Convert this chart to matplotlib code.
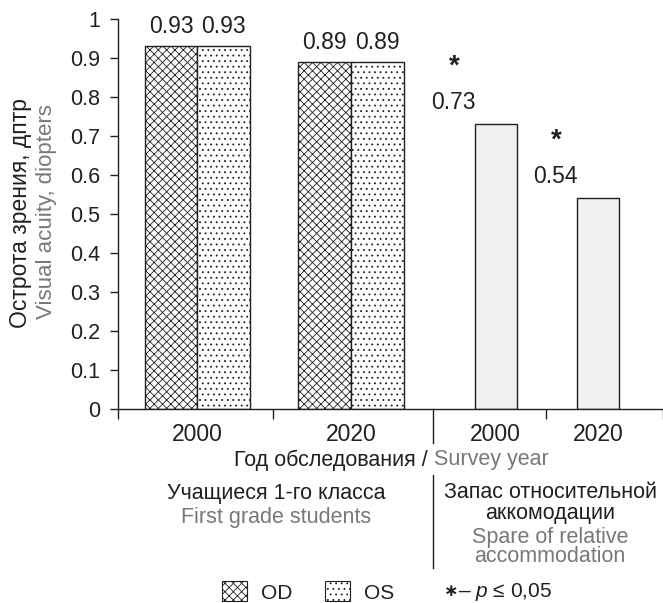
import matplotlib
matplotlib.use("Agg")
import matplotlib.pyplot as plt
from matplotlib.patches import Patch
from matplotlib.lines import Line2D

plt.rcParams["font.family"] = ["Liberation Sans", "DejaVu Sans"]
plt.rcParams["font.size"] = 15.5
plt.rcParams["mathtext.fontset"] = "custom"
plt.rcParams["mathtext.it"] = "Liberation Sans:italic"
plt.rcParams["mathtext.rm"] = "Liberation Sans"
plt.rcParams["hatch.linewidth"] = 0.6

# data
years = ["2000", "2020"]
od_vals = [0.93, 0.89]
os_vals = [0.93, 0.89]
reserve_vals = [0.73, 0.54]
yticks = [0, 0.1, 0.2, 0.3, 0.4, 0.5, 0.6, 0.7, 0.8, 0.9, 1]
ytick_labels = ["0", "0.1", "0.2", "0.3", "0.4", "0.5", "0.6", "0.7", "0.8", "0.9", "1"]

BLACK = "#231f20"
GRAY = "#77787b"
W, H = 663, 603

# layout (x units along the axis)
group_x = [1.51, 4.43]
reserve_x = [7.18, 9.12]
short_ticks = [0, 2.95, 8.13, 10.36]
long_tick = 5.99

fig = plt.figure(figsize=(6.63, 6.03), dpi=100)
ax = fig.add_axes([118 / W, 1 - 409 / H, 545 / W, 390 / H])

for i in range(len(years)):
    ax.bar(group_x[i] - 0.5, od_vals[i], width=1.0, facecolor="white",
           edgecolor=BLACK, linewidth=1.0, hatch="xxxx")
    ax.bar(group_x[i] + 0.5, os_vals[i], width=1.0, facecolor="white",
           edgecolor=BLACK, linewidth=1.0, hatch="...")
    for dx, v in [(-0.5, od_vals[i]), (0.5, os_vals[i])]:
        ax.annotate(f"{v:.2f}", (group_x[i] + dx, v), xytext=(0, 8),
                    textcoords="offset pixels", ha="center", va="bottom",
                    color=BLACK, fontsize=16.5)

for i in range(len(years)):
    v = reserve_vals[i]
    ax.bar(reserve_x[i], v, width=0.8, facecolor="#f1f1f2",
           edgecolor=BLACK, linewidth=1.0)
    ax.annotate(f"{v:.2f}", (reserve_x[i], v), xytext=(-42, 10),
                textcoords="offset pixels", ha="center", va="bottom",
                color=BLACK, fontsize=16.5)
    ax.annotate("*", (reserve_x[i], v), xytext=(-41, 58),
                textcoords="offset pixels", ha="center", va="center",
                color=BLACK, fontsize=20, fontweight="bold")

ax.set_xlim(0, 10.36)
ax.set_ylim(0, 1)
ax.set_yticks(yticks)
ax.set_yticklabels(ytick_labels)
ax.set_xticks(group_x + reserve_x)
ax.set_xticklabels(years + years, fontsize=16.5)
ax.set_xticks(short_ticks, minor=True)
ax.tick_params(axis="x", which="major", length=0, pad=10, colors=BLACK)
ax.tick_params(axis="x", which="minor", length=7, width=1.0, color=BLACK)
ax.tick_params(axis="y", length=6, width=1.0, pad=7, colors=BLACK)
for s in ["top", "right"]:
    ax.spines[s].set_visible(False)
for s in ["left", "bottom"]:
    ax.spines[s].set_linewidth(1.0)
    ax.spines[s].set_color(BLACK)

# long separator under the axis
ax.add_line(Line2D([long_tick, long_tick], [0, -34 / 390], color=BLACK,
                   linewidth=1.0, transform=ax.get_xaxis_transform(),
                   clip_on=False))
fig.add_artist(Line2D([432.7 / W, 432.7 / W], [1 - 475 / H, 1 - 568 / H],
                      color=BLACK, linewidth=1.0))

# y labels
fig.text(21 / W, 1 - 213 / H, "Острота зрения, дптр", rotation=90,
         ha="center", va="center", color=BLACK, fontsize=16.5)
fig.text(47 / W, 1 - 212 / H, "Visual acuity, diopters", rotation=90,
         ha="center", va="center", color=GRAY, fontsize=16)

# x label
fig.text(428 / W, 1 - 460 / H, "Год обследования /", ha="right",
         va="center", color=BLACK)
fig.text(434 / W, 1 - 460 / H, "Survey year", ha="left", va="center",
         color=GRAY)

# group captions
fig.text(276 / W, 1 - 494 / H, "Учащиеся 1-го класса", ha="center",
         va="center", color=BLACK)
fig.text(276 / W, 1 - 518 / H, "First grade students", ha="center",
         va="center", color=GRAY)
fig.text(550 / W, 1 - 493 / H, "Запас относительной", ha="center",
         va="center", color=BLACK)
fig.text(550 / W, 1 - 513 / H, "аккомодации", ha="center",
         va="center", color=BLACK)
fig.text(550 / W, 1 - 537 / H, "Spare of relative", ha="center",
         va="center", color=GRAY)
fig.text(550 / W, 1 - 557 / H, "accommodation", ha="center",
         va="center", color=GRAY)

# legend
handles = [Patch(facecolor="white", edgecolor=BLACK, hatch="xxxx", linewidth=0.8),
           Patch(facecolor="white", edgecolor=BLACK, hatch="...", linewidth=0.8)]
leg = fig.legend(handles, ["OD", "OS"], ncol=2, loc="center",
                 bbox_to_anchor=(308 / W, 1 - 592 / H), frameon=False,
                 fontsize=15, handlelength=1.2, handleheight=1.1,
                 handletextpad=0.65, columnspacing=1.6, borderpad=0)
for t in leg.get_texts():
    t.set_color(BLACK)
fig.text(451 / W, 1 - 592 / H, "∗", ha="center", va="center",
         fontsize=12.5, fontweight="bold", color=BLACK)
fig.text(458 / W, 1 - 592 / H, "– $\\mathit{p}$ ≤ 0,05", ha="left",
         va="center", color=BLACK, fontsize=15)

fig.savefig("out.png", dpi=100)
